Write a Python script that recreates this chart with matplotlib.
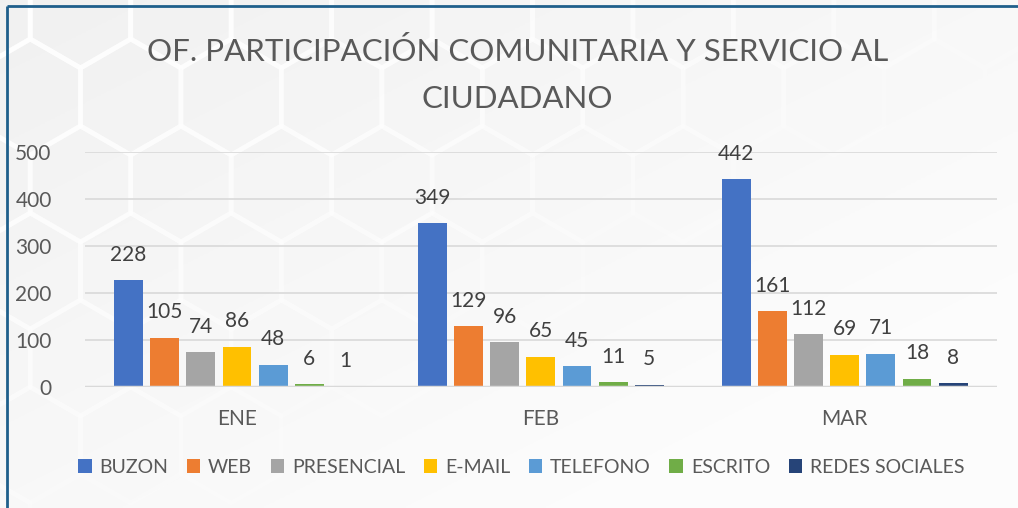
import numpy as np
import matplotlib
matplotlib.use("Agg")
import matplotlib.pyplot as plt
from matplotlib.patches import RegularPolygon

# data
months = ["ENE", "FEB", "MAR"]
channels = ["BUZON", "WEB", "PRESENCIAL", "E-MAIL", "TELEFONO", "ESCRITO", "REDES SOCIALES"]
buzon = [228, 349, 442]
web = [105, 129, 161]
presencial = [74, 96, 112]
email = [86, 65, 69]
telefono = [48, 45, 71]
escrito = [6, 11, 18]
redes = [1, 5, 8]
colors = ["#4472C4", "#ED7D31", "#A5A5A5", "#FFC000", "#5B9BD5", "#70AD47", "#264478"]

series = [buzon, web, presencial, email, telefono, escrito, redes]
txt = "#595959"
plt.rcParams["font.family"] = ["Lato", "DejaVu Sans"]

fig = plt.figure(figsize=(10.18, 5.08), dpi=100)

# background with faint hexagon pattern
bg = fig.add_axes([0, 0, 1, 1], zorder=-10)
bg.set_xlim(0, 1018)
bg.set_ylim(508, 0)
bg.axis("off")
grad = np.linspace(0, 1, 200)
gx, gy = np.meshgrid(grad, grad)
shade = 0.945 + 0.045 * np.clip((gx + gy) / 1.6, 0, 1)
bg.imshow(np.dstack([shade] * 3), extent=(0, 1018, 508, 0), aspect="auto")
r = 58
dx = r * np.sqrt(3)
for row in range(-1, 8):
    for col in range(-1, 12):
        cx = col * dx + (dx / 2 if row % 2 else 0) - 20
        cy = row * r * 1.5 + 10
        fade = min(1.0, max(0.0, 1 - (cx / 1018 + cy / 508) / 1.4))
        bg.add_patch(RegularPolygon((cx, cy), 6, radius=r, orientation=0,
                                    fill=False, ec="white", lw=3.5, alpha=0.8 * fade))
# frame lines
bg.plot([7, 1018], [6, 6], color="#1F5F8B", lw=2, solid_capstyle="butt")
bg.plot([7, 7], [6, 508], color="#1F5F8B", lw=2, solid_capstyle="butt")

ax = fig.add_axes([0.0835, 0.238, 0.8955, 0.4628])
ax.patch.set_alpha(0)
x = np.arange(len(months))
step = 0.119
width = 0.095
for i, (name, vals, c) in enumerate(zip(channels, series, colors)):
    pos = x + (i - 3) * step
    ax.bar(pos, vals, width, color=c, label=name, zorder=3)
    for p, v in zip(pos, vals):
        ax.annotate(str(v), (p, v), xytext=(0, 11), textcoords="offset points",
                    ha="center", va="bottom", fontsize=15, color="#404040",
                    annotation_clip=False)

ax.set_xlim(-0.5, 2.5)
ax.set_ylim(0, 500)
ax.set_yticks(range(0, 501, 100))
ax.grid(axis="y", color="#D9D9D9", lw=1.2, zorder=0)
ax.axhline(0, color="#D9D9D9", lw=2.5, zorder=4)
for s in ax.spines.values():
    s.set_visible(False)
ax.tick_params(length=0, labelsize=15, labelcolor=txt)
ax.tick_params(axis="y", pad=24)
ax.tick_params(axis="x", pad=16)
ax.set_xticks(x)
ax.set_xticklabels(months)

fig.text(0.508, 0.898, "OF. PARTICIPACIÓN COMUNITARIA Y SERVICIO AL", ha="center", va="center",
         fontsize=22.5, color=txt)
fig.text(0.508, 0.806, "CIUDADANO", ha="center", va="center", fontsize=22.5, color=txt)

fig.legend(loc="center", bbox_to_anchor=(0.512, 0.08), ncol=7, frameon=False,
           fontsize=14, labelcolor=txt, handlelength=0.7, handleheight=0.7,
           handletextpad=0.4, columnspacing=0.95)

fig.savefig("out.png", dpi=100)
